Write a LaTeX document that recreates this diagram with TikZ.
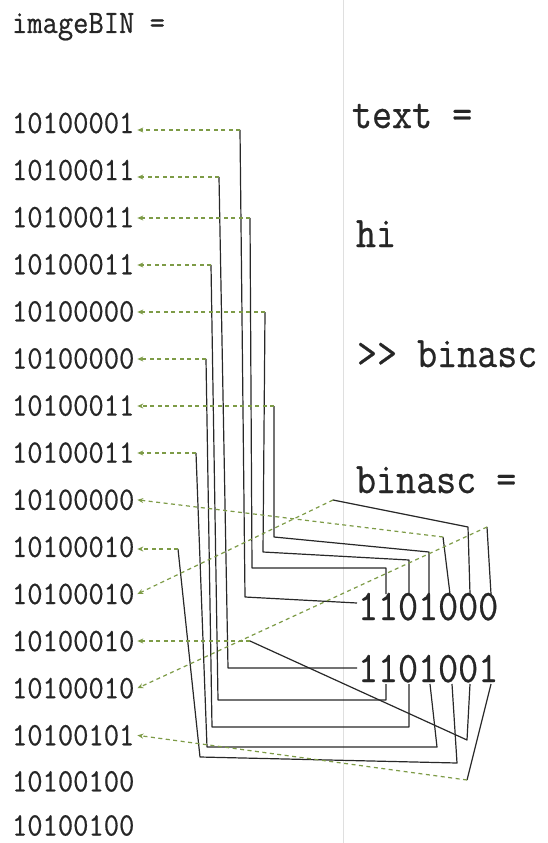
\documentclass[tikz,border=0pt]{standalone}
\usepackage{fontspec}
\newfontfamily\courlike[AutoFakeBold=0.6]{Latin Modern Mono}
\usepackage{graphicx}
\usetikzlibrary{arrows.meta}
\definecolor{gdash}{RGB}{125,155,70}
\definecolor{wirec}{RGB}{40,40,40}
\newcommand{\smtt}[1]{{\fontsize{29.7}{30}\courlike\bfseries\scalebox{1}[1.1]{#1}}}
\newcommand{\bgtt}[1]{{\fontsize{38.9}{39}\courlike\bfseries\scalebox{1}[1.12]{#1}}}
\begin{document}
\begin{tikzpicture}[x=1pt,y=-1pt,
  lrow/.style={anchor=base west, inner xsep=3pt, inner ysep=0pt, outer sep=0pt, text=black!85},
  rtxt/.style={anchor=base west, inner sep=0pt, outer sep=0pt, text=black!85},
  wire/.style={draw=wirec, line width=1.2pt, line join=round},
  garrow/.style={draw=gdash, line width=1.2pt, dash pattern=on 4pt off 3.5pt, -{Stealth[length=6pt,width=5pt]}}]
\useasboundingbox (0,0) rectangle (547,843);
\fill[white] (0,0) rectangle (547,843);
\draw[gray!25, line width=1pt] (343,0) -- (343,843);

% left column
\node[lrow] (hdr) at (9,33) {\smtt{imageBIN =}};
\node[lrow] (r1)  at (9,133)   {\smtt{10100001}};
\node[lrow] (r2)  at (9,180.1) {\smtt{10100011}};
\node[lrow] (r3)  at (9,227.2) {\smtt{10100011}};
\node[lrow] (r4)  at (9,274.3) {\smtt{10100011}};
\node[lrow] (r5)  at (9,321.4) {\smtt{10100000}};
\node[lrow] (r6)  at (9,368.5) {\smtt{10100000}};
\node[lrow] (r7)  at (9,415.6) {\smtt{10100011}};
\node[lrow] (r8)  at (9,462.7) {\smtt{10100011}};
\node[lrow] (r9)  at (9,509.8) {\smtt{10100000}};
\node[lrow] (r10) at (9,556.9) {\smtt{10100010}};
\node[lrow] (r11) at (9,604)   {\smtt{10100010}};
\node[lrow] (r12) at (9,651.1) {\smtt{10100010}};
\node[lrow] (r13) at (9,698.2) {\smtt{10100010}};
\node[lrow] (r14) at (9,745.3) {\smtt{10100101}};
\node[lrow] (r15) at (9,791.4) {\smtt{10100100}};
\node[lrow] (r16) at (9,835.5) {\smtt{10100100}};

% right column
\node[rtxt] (tx)  at (352,128) {\bgtt{text =}};
\node[rtxt] (hi)  at (356,247) {\bgtt{hi}};
\node[rtxt] (cmd) at (357,367) {\bgtt{>> binasc}};
\node[rtxt] (ba)  at (356,493) {\bgtt{binasc =}};
\node[rtxt] (h1)  at (358,620) {\bgtt{1101000}};
\node[rtxt] (h2)  at (358,682) {\bgtt{1101001}};

% bend points
\coordinate (k1) at (240,130);
\coordinate (k2) at (219,177);
\coordinate (k3) at (250,218);
\coordinate (k4) at (211,265);
\coordinate (k5) at (265,312);
\coordinate (k6) at (206,359);
\coordinate (k7) at (274,406);
\coordinate (k8) at (196,453);
\coordinate (k9) at (443,537);
\coordinate (k10) at (178,549);
\coordinate (k11) at (333,500);
\coordinate (k12) at (250,641);
\coordinate (k13) at (487,527);
\coordinate (k14) at (467,780);

% digit attach points
\coordinate (a1) at (357,603);
\coordinate (a2) at (386,594);
\coordinate (a3) at (409,594);
\coordinate (a4) at (429,594);
\coordinate (a5) at (450,594);
\coordinate (a6) at (470,594);
\coordinate (a7) at (491,594);
\coordinate (b1) at (357,668);
\coordinate (b2) at (386,684);
\coordinate (b3) at (409,684);
\coordinate (b4) at (430,684);
\coordinate (b5) at (452,684);
\coordinate (b6) at (470,684);
\coordinate (b7) at (491,684);

% solid wires
\draw[wire] (k1) -- (245,597) -- (a1);
\draw[wire] (k3) -- (252,568) -- (386,568) -- (a2);
\draw[wire] (k5) -- (263,552) -- (409,560) -- (a3);
\draw[wire] (k7) -- (274,537) -- (429,552) -- (a4);
\draw[wire] (k9) -- (a5);
\draw[wire] (k11) -- (468,527) -- (a6);
\draw[wire] (k13) -- (a7);
\draw[wire] (k2) -- (228,668) -- (b1);
\draw[wire] (k4) -- (218,700) -- (386,700) -- (b2);
\draw[wire] (k6) -- (212,727) -- (409,727) -- (b3);
\draw[wire] (k8) -- (207,747) -- (437,747) -- (b4);
\draw[wire] (k10) -- (200,757) -- (457,763) -- (b5);
\draw[wire] (k12) -- (467,740) -- (b6);
\draw[wire] (k14) -- (b7);

% green dashed arrows
\draw[garrow] (k1) -- (k1 -| r1.east);
\draw[garrow] (k2) -- (k2 -| r2.east);
\draw[garrow] (k3) -- (k3 -| r3.east);
\draw[garrow] (k4) -- (k4 -| r4.east);
\draw[garrow] (k5) -- (k5 -| r5.east);
\draw[garrow] (k6) -- (k6 -| r6.east);
\draw[garrow] (k7) -- (k7 -| r7.east);
\draw[garrow] (k8) -- (k8 -| r8.east);
\draw[garrow] (k9) -- (r9.east);
\draw[garrow] (k10) -- (k10 -| r10.east);
\draw[garrow] (k11) -- (r11.east);
\draw[garrow] (k12) -- (k12 -| r12.east);
\draw[garrow] (k13) -- (r13.east);
\draw[garrow] (k14) -- (r14.east);
\end{tikzpicture}
\end{document}
